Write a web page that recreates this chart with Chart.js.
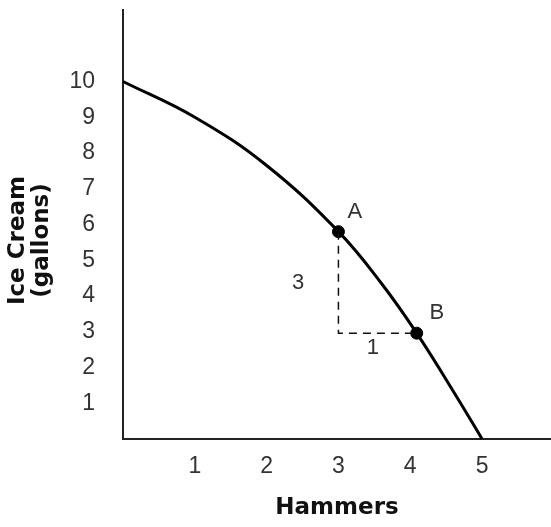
<!DOCTYPE html>
<html>
<head>
<meta charset="utf-8">
<script src="https://cdn.jsdelivr.net/npm/chart.js@4/dist/chart.umd.min.js"></script>
<style>
  html, body { margin: 0; padding: 0; background: #fff; }
  #wrap { width: 551px; height: 527px; }
</style>
</head>
<body>
<div id="wrap"><canvas id="ppf"></canvas></div>
<script>
// curve (hammers -> gallons of ice cream)
var hammers = [0, 1, 2, 3, 3.6, 4.09, 4.65, 5];
var iceCream = [10, 9.0, 7.65, 5.8, 4.35, 2.96, 1.17, 0];

// the two marked points
var pointNames = ['A', 'B'];
var pointX = [3.0, 4.09];
var pointY = [5.8, 2.96];

// tick labels shown on the axes
var xTicks = [1, 2, 3, 4, 5];
var yTicks = [1, 2, 3, 4, 5, 6, 7, 8, 9, 10];

// text notes: letters next to the points and the rise / run
var notes = [
    { text: 'A', x: 3.23, y: 6.34 },
    { text: 'B', x: 4.37, y: 3.52 },
    { text: '3', x: 2.44, y: 4.36 },
    { text: '1', x: 3.48, y: 2.54 }
];

var thinFont = '"Liberation Sans", "DejaVu Sans", sans-serif';
var boldFont = '"DejaVu Sans", sans-serif';

var notesPlugin = {
    id: 'notes',
    afterDatasetsDraw: function (chart) {
        var c = chart.ctx;
        var xs = chart.scales.x, ys = chart.scales.y;
        c.save();
        c.fillStyle = '#333';
        c.font = '22px ' + thinFont;
        c.textAlign = 'center';
        c.textBaseline = 'middle';
        notes.forEach(function (n) {
            c.fillText(n.text, xs.getPixelForValue(n.x), ys.getPixelForValue(n.y));
        });
        c.restore();
    }
};

function noEdgePadding(s) {
    s.paddingTop = 0;
    s.paddingBottom = 0;
    s.paddingLeft = 0;
    s.paddingRight = 0;
}

var ctx = document.getElementById('ppf').getContext('2d');
var ppfChart = new Chart(ctx, {
    type: 'scatter',
    data: {
        datasets: [{
            label: 'PPF',
            data: hammers.map(function (h, i) { return { x: h, y: iceCream[i] }; }),
            showLine: true,
            borderColor: '#000',
            borderWidth: 3,
            pointRadius: 0,
            tension: 0.4,
            clip: false
        }, {
            label: 'rise-run',
            data: [
                { x: pointX[0], y: pointY[0] },
                { x: pointX[0], y: pointY[1] },
                { x: pointX[1], y: pointY[1] }
            ],
            showLine: true,
            borderColor: '#111',
            borderWidth: 1.5,
            borderDash: [8, 6],
            pointRadius: 0,
            tension: 0
        }, {
            label: 'points',
            data: pointNames.map(function (n, i) { return { x: pointX[i], y: pointY[i] }; }),
            showLine: false,
            backgroundColor: '#000',
            borderColor: '#000',
            pointRadius: 6
        }]
    },
    options: {
        responsive: true,
        maintainAspectRatio: false,
        animation: false,
        layout: { autoPadding: false, padding: { top: 10, right: 0, left: 0, bottom: 0 } },
        plugins: {
            legend: { display: false },
            tooltip: { enabled: false }
        },
        scales: {
            x: {
                type: 'linear',
                min: 0,
                max: 5.96,
                afterFit: function (s) { s.height = 88; noEdgePadding(s); },
                grid: { display: false, drawTicks: false },
                border: { display: true, color: '#222', width: 2 },
                ticks: {
                    stepSize: 1,
                    includeBounds: false,
                    padding: 14,
                    color: '#333',
                    font: { family: thinFont, size: 23 },
                    callback: function (v) { return xTicks.indexOf(v) >= 0 ? String(v) : ''; }
                },
                title: {
                    display: true,
                    text: 'Hammers',
                    color: '#111',
                    padding: { bottom: 5 },
                    font: { family: boldFont, size: 23, weight: 'bold' }
                }
            },
            y: {
                type: 'linear',
                min: 0,
                max: 12,
                afterFit: function (s) { s.width = 123; noEdgePadding(s); },
                grid: { display: false, drawTicks: false },
                border: { display: true, color: '#222', width: 2 },
                ticks: {
                    stepSize: 1,
                    padding: 28,
                    color: '#333',
                    font: { family: thinFont, size: 23 },
                    callback: function (v) { return yTicks.indexOf(v) >= 0 ? String(v) : ''; }
                },
                title: {
                    display: true,
                    // trailing spaces push the rotated title down to where it sits in the picture
                    text: ['Ice Cream    ', '(gallons)    '],
                    color: '#111',
                    padding: { top: 6 },
                    font: { family: boldFont, size: 23, weight: 'bold', lineHeight: 1.05 }
                }
            }
        }
    },
    plugins: [notesPlugin]
});
</script>
</body>
</html>
